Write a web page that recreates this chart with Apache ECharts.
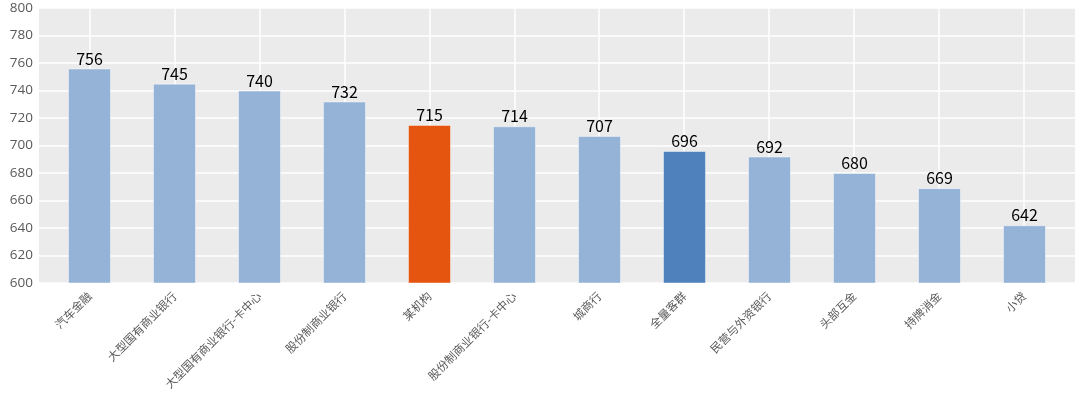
<!DOCTYPE html>
<html>
<head>
<meta charset="utf-8">
<script src="https://cdn.jsdelivr.net/npm/echarts@6/dist/echarts.min.js"></script>
<style>
html,body{margin:0;padding:0;background:#fff;}
#main{width:1080px;height:396px;}
</style>
</head>
<body>
<div id="main"></div>
<script>
var categories = ['汽车金融','大型国有商业银行','大型国有商业银行-卡中心','股份制商业银行','某机构','股份制商业银行-卡中心','城商行','全量客群','民营与外资银行','头部互金','持牌消金','小贷'];
var values = [756,745,740,732,715,714,707,696,692,680,669,642];
var barColors = ['#95b3d7','#95b3d7','#95b3d7','#95b3d7','#e6550f','#95b3d7','#95b3d7','#4f81bd','#95b3d7','#95b3d7','#95b3d7','#95b3d7'];
var yMin = 600, yMax = 800, yStep = 20;

var chart = echarts.init(document.getElementById('main'));
var font = '"Noto Sans CJK SC", "Noto Sans", sans-serif';
var pad = 0.594;
chart.setOption({
  animation: false,
  grid: [
    {left: 39, right: 5, top: 8, bottom: 113, show: true, backgroundColor: '#ebebeb', borderWidth: 0},
    {left: 89.5, right: 56, top: 8, bottom: 113, show: false}
  ],
  xAxis: [
    {gridIndex: 0, type: 'value', min: -pad, max: categories.length - 1 + pad, show: false},
    {gridIndex: 1, type: 'category', boundaryGap: false, data: categories,
     axisLine: {show: false}, axisTick: {show: false},
     splitLine: {show: true, lineStyle: {color: '#ffffff', width: 1.5}},
     axisLabel: {rotate: 45, color: '#595959', fontSize: 11.5, fontFamily: font, margin: 11, interval: 0}}
  ],
  yAxis: [
    {gridIndex: 0, type: 'value', min: yMin, max: yMax, interval: yStep,
     axisLine: {show: false}, axisTick: {show: false},
     splitLine: {show: true, lineStyle: {color: '#ffffff', width: 1.5}},
     axisLabel: {color: '#595959', fontSize: 13.5, fontFamily: '"Open Sans", sans-serif', margin: 6}},
    {gridIndex: 1, type: 'value', min: yMin, max: yMax, show: false}
  ],
  series: [{
    type: 'bar',
    xAxisIndex: 0, yAxisIndex: 0,
    barWidth: 43,
    z: 5,
    data: values.map(function(v, i){
      return {value: [i, v], itemStyle: {color: barColors[i], borderColor: 'rgba(255,255,255,0.45)', borderWidth: 1}};
    }),
    label: {show: true, position: 'top', distance: 2, color: '#000', fontSize: 16, fontFamily: font,
            formatter: function(p){ return p.value[1]; }}
  }]
});
</script>
</body>
</html>
